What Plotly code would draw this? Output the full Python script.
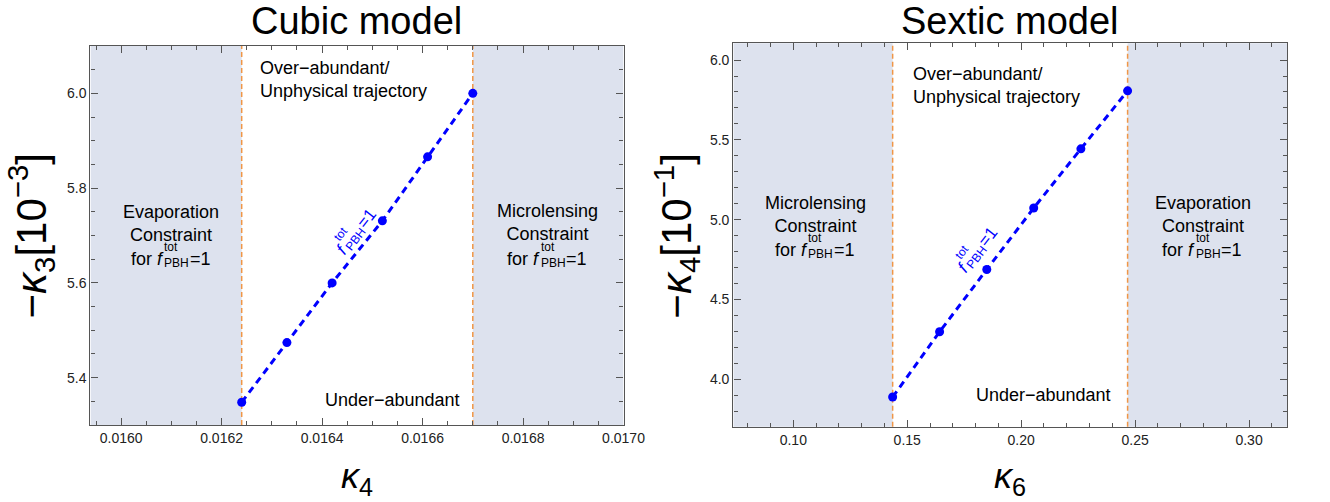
import math
import plotly.graph_objects as go

# ---------------- data ----------------
# Cubic model: trajectory of f_PBH^tot = 1 in the (kappa_4, -kappa_3) plane
cubic_k4 = [0.01624, 0.01633, 0.01642, 0.01652, 0.01661, 0.01670]
cubic_mk3 = [5.348, 5.474, 5.600, 5.731, 5.866, 6.000]          # -kappa_3 in units of 1e-3
cubic_evap_bound = 0.01624
cubic_micro_bound = 0.01670

# Sextic model: trajectory in the (kappa_6, -kappa_4) plane
sextic_k6 = [0.1436, 0.1642, 0.1849, 0.2055, 0.2262, 0.2467]
sextic_mk4 = [3.889, 4.298, 4.688, 5.073, 5.444, 5.807]          # -kappa_4 in units of 1e-1
sextic_micro_bound = 0.1436
sextic_evap_bound = 0.2467

cubic_xrange = [0.015939, 0.01700]
cubic_yrange = [5.30, 6.10]
sextic_xrange = [0.0737, 0.3168]
sextic_yrange = [3.703, 6.105]

# ---------------- style ----------------
W, H = 1330, 502
FONT = "Liberation Sans, Arial, Helvetica, sans-serif"
BLUE = "rgb(0,0,255)"
ORANGE = "rgb(240,150,70)"
SHADE = "rgb(221,226,238)"
FRAME = "#555555"


def px(x):
    return x / W


def py(y):
    return 1 - y / H


def axis_style(dtick, tick0, minor_dtick, fmt):
    return dict(
        showline=True, linecolor=FRAME, linewidth=1.3, mirror="allticks",
        ticks="inside", ticklen=7, tickwidth=1, tickcolor=FRAME,
        dtick=dtick, tick0=tick0, tickformat=fmt,
        showgrid=False, zeroline=False,
        tickfont=dict(family=FONT, size=14, color="#222"),
        minor=dict(ticks="inside", ticklen=4, tickwidth=1, tickcolor=FRAME,
                   dtick=minor_dtick, tick0=tick0, showgrid=False),
    )


fig = go.Figure()

# trajectories
fig.add_trace(go.Scatter(
    x=cubic_k4, y=cubic_mk3, mode="lines+markers", xaxis="x", yaxis="y",
    line=dict(color=BLUE, width=3, dash="7px,5px"),
    marker=dict(color=BLUE, size=9), showlegend=False, cliponaxis=False))
fig.add_trace(go.Scatter(
    x=sextic_k6, y=sextic_mk4, mode="lines+markers", xaxis="x2", yaxis="y2",
    line=dict(color=BLUE, width=3, dash="7px,5px"),
    marker=dict(color=BLUE, size=9), showlegend=False, cliponaxis=False))

shapes = []
# excluded regions (shaded) and their boundaries (orange dashed)
for xr, yr, x0, x1 in [
    ("x", "y domain", cubic_xrange[0], cubic_evap_bound),
    ("x", "y domain", cubic_micro_bound, cubic_xrange[1]),
    ("x2", "y2 domain", sextic_xrange[0], sextic_micro_bound),
    ("x2", "y2 domain", sextic_evap_bound, sextic_xrange[1]),
]:
    shapes.append(dict(type="rect", xref=xr, yref=yr, x0=x0, x1=x1, y0=0, y1=1,
                       fillcolor=SHADE, line=dict(width=0), layer="below"))
for xr, yr, xv in [("x", "y domain", cubic_evap_bound), ("x", "y domain", cubic_micro_bound),
                   ("x2", "y2 domain", sextic_micro_bound), ("x2", "y2 domain", sextic_evap_bound)]:
    shapes.append(dict(type="line", xref=xr, yref=yr, x0=xv, x1=xv, y0=0, y1=1,
                       line=dict(color=ORANGE, width=1.5, dash="5px,3px"), layer="below"))

ann = []


def text(x, y, s, size=18, color="black", xanchor="center", align="center", **kw):
    ann.append(dict(x=px(x), y=py(y), xref="paper", yref="paper", text=s, showarrow=False,
                    xanchor=xanchor, yanchor="middle", align=align,
                    font=dict(family=FONT, size=size, color=color), **kw))


def f_pbh_label(prefix, prefix_em, anchor, s, s2, angle=0.0, color="black",
                along=0.0, perp=0.0):
    """Stacked f_PBH^tot = 1 label, built from pieces laid out along a baseline.

    along/perp move the whole label (in px) along its baseline and normal to it.
    """
    pre_w = prefix_em * s
    scr0 = pre_w + 0.10 * s
    scr_w = 2.056 * s2
    eq0 = scr0 + scr_w + 0.05 * s
    total = eq0 + 1.14 * s
    pieces = [
        (prefix, s, pre_w / 2 - total / 2, 0.0),
        ("tot", s2, scr0 + 1.112 * s2 / 2 - total / 2, 0.64 * s),
        ("PBH", s2, scr0 + scr_w / 2 - total / 2, -0.22 * s),
        ("=1", s, eq0 + 0.57 * s - total / 2, 0.0),
    ]
    th = math.radians(angle)
    ax, ay, xr, yr = anchor
    for t, size, a, p in pieces:
        a += along
        p += perp
        xs = a * math.cos(th) - p * math.sin(th)
        ys = a * math.sin(th) + p * math.cos(th)
        ann.append(dict(x=ax, y=ay, xref=xr, yref=yr, text=t, showarrow=False,
                        xanchor="center", yanchor="middle", textangle=-angle,
                        xshift=xs, yshift=ys,
                        font=dict(family=FONT, size=size, color=color)))


# panel titles
text(363, 21, "Cubic model", size=38)
text(1027, 21, "Sextic model", size=38)

# axis titles
text(363, 478, "<i>κ</i><sub>4</sub>", size=36)
text(1027, 478, "<i>κ</i><sub>6</sub>", size=36)
text(31, 236, "−<i>κ</i><sub>3</sub>[10<sup>−3</sup>]", size=42, textangle=-90)
text(687, 236, "−<i>κ</i><sub>4</sub>[10<sup>−1</sup>]", size=42, textangle=-90)

# region labels, cubic panel
text(262, 80, "Over−abundant/<br>Unphysical trajectory", size=18, xanchor="left", align="left")
text(399, 400, "Under−abundant", size=18)
text(174, 223, "Evaporation<br>Constraint", size=18)
f_pbh_label("for <i>f</i>", 1.723, (px(174), py(259), "paper", "paper"), 18, 12)
text(557, 222, "Microlensing<br>Constraint", size=18)
f_pbh_label("for <i>f</i>", 1.723, (px(557), py(259), "paper", "paper"), 18, 12)

# region labels, sextic panel
text(926, 86, "Over−abundant/<br>Unphysical trajectory", size=18, xanchor="left", align="left")
text(1061, 395, "Under−abundant", size=18)
text(829, 214, "Microlensing<br>Constraint", size=18)
f_pbh_label("for <i>f</i>", 1.723, (px(829), py(250), "paper", "paper"), 18, 12)
text(1223, 214, "Evaporation<br>Constraint", size=18)
f_pbh_label("for <i>f</i>", 1.723, (px(1223), py(250), "paper", "paper"), 18, 12)

# labels along the trajectories, anchored between the 3rd and 4th points
cx = (cubic_k4[2] + cubic_k4[3]) / 2
cy = (cubic_mk3[2] + cubic_mk3[3]) / 2
f_pbh_label("<i>f</i>", 0.30, (cx, cy, "x", "y"), 17, 12, angle=52, color=BLUE,
            along=16, perp=13)
sx = (sextic_k6[2] + sextic_k6[3]) / 2
sy = (sextic_mk4[2] + sextic_mk4[3]) / 2
f_pbh_label("<i>f</i>", 0.30, (sx, sy, "x2", "y2"), 17, 12, angle=52, color=BLUE,
            along=-28, perp=19)

fig.update_layout(
    width=W, height=H, margin=dict(l=0, r=0, t=0, b=0),
    paper_bgcolor="white", plot_bgcolor="white",
    font=dict(family=FONT, color="black"),
    xaxis=dict(domain=[px(92), px(634)], range=cubic_xrange, anchor="y",
               **axis_style(0.0002, 0.0160, 0.00005, ".4f")),
    yaxis=dict(domain=[py(425), py(46)], range=cubic_yrange, anchor="x",
               **axis_style(0.2, 5.4, 0.05, ".1f")),
    xaxis2=dict(domain=[px(745.7), px(1309)], range=sextic_xrange, anchor="y2",
                **axis_style(0.05, 0.1, 0.01, ".2f")),
    yaxis2=dict(domain=[py(426.7), py(43.3)], range=sextic_yrange, anchor="x2",
                **axis_style(0.5, 4.0, 0.1, ".1f")),
    shapes=shapes, annotations=ann, showlegend=False,
)

fig.write_html("out.html")
